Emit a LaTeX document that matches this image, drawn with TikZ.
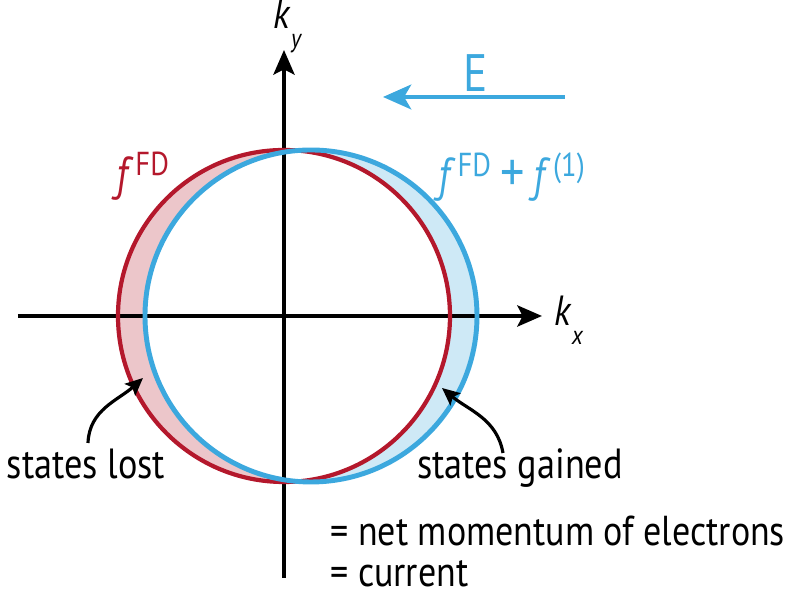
\documentclass[tikz,border=0pt]{standalone}
\usepackage{fontspec}
\setmainfont{PT Sans}[FakeStretch=0.86]
\usepackage{tikz}
\usetikzlibrary{arrows.meta,positioning}

\definecolor{fdred}{RGB}{180,24,44}
\definecolor{fdblue}{RGB}{60,168,222}
\definecolor{lostfill}{RGB}{236,198,202}
\definecolor{gainfill}{RGB}{206,233,246}

\begin{document}
\begin{tikzpicture}[
    x=0.02cm, y=0.02cm,
    axis/.style={line width=2.3pt, -{Stealth[length=14pt, width=12pt, inset=3pt]}},
    efield/.style={line width=2.6pt, fdblue, -{Stealth[length=16pt, width=14pt, inset=4pt]}},
    pointer/.style={line width=1.8pt, -{Stealth[length=10pt, width=9pt, inset=2pt]}},
    lbl/.style={font=\fontsize{24}{28}\selectfont, inner sep=0pt},
    flbl/.style={font=\fontsize{27}{30}\selectfont, inner sep=0pt, anchor=base},
    note/.style={font=\fontsize{23.8}{28}\selectfont, inner sep=0pt, anchor=base west}
]
\useasboundingbox (-284,316) rectangle (512,-281);

% shaded crescents
\fill[lostfill] (0,0) circle (166);
\fill[gainfill] (27,0) circle (166);
\begin{scope}
  \clip (0,0) circle (166);
  \fill[white] (27,0) circle (166);
\end{scope}

% axes
\coordinate (xs) at (-266,0);
\coordinate (xe) at (258,0);
\coordinate (ys) at (0,-262);
\coordinate (ye) at (0,266);
\draw[axis] (xs) -- (xe);
\draw[axis] (ys) -- (ye);
\node[lbl, anchor=west] (kx) at (270,-4) {\textit{k}\raisebox{-0.45em}{\fontsize{15}{18}\selectfont\textit{x}}};
\node[lbl] (ky) at (4,290) {\textit{k}\raisebox{-0.45em}{\fontsize{15}{18}\selectfont\textit{y}}};

% Fermi circles
\draw[fdred, line width=2.4pt] (0,0) circle (166);
\draw[fdblue, line width=2.8pt] (27,0) circle (166);

\node[flbl, text=fdred] (fd) at (-141,125) {\textit{f}\kern1pt\textsuperscript{FD}};
\node[flbl, text=fdblue] (fdone) at (228,124) {\textit{f}\kern1pt\textsuperscript{FD}\kern5pt{\fontsize{32}{34}\selectfont +}\kern5pt\textit{f}\kern1pt\textsuperscript{(1)}};

% field
\coordinate (es) at (281,219);
\coordinate (ee) at (99,219);
\draw[efield] (es) -- (ee);
\node[lbl, text=fdblue, font=\fontsize{30}{34}\selectfont] (E) at (192,243) {E};

% states
\node[lbl, anchor=base] (lost) at (-198,-163) {states lost};
\node[lbl, anchor=base] (gained) at (236,-163) {states gained};
\coordinate (lostfoot) at (-196,-127);
\coordinate (lostpt) at (-141,-62);
\coordinate (gainfoot) at (219,-137);
\coordinate (gainpt) at (158,-72);
\draw[pointer] (lostfoot) to[out=88, in=222] (lostpt);
\draw[pointer] (gainfoot) to[out=100, in=-40] (gainpt);

\node[note] (mom) at (46,-230) {= net momentum of electrons};
\node[note] (cur) at (46,-271) {= current};
\end{tikzpicture}
\end{document}
